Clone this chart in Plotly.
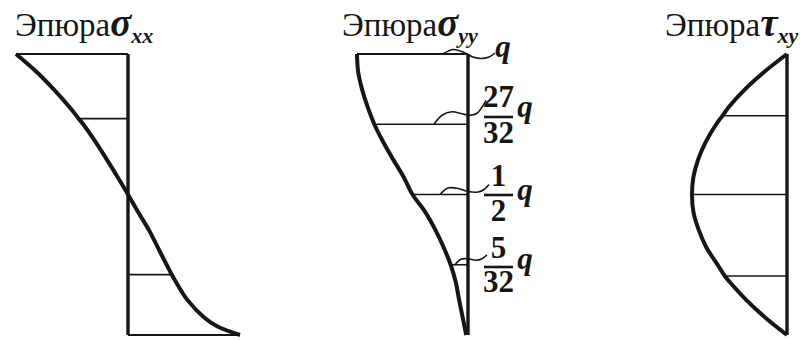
import plotly.graph_objects as go

W, H = 800, 340
INK = "#161616"
SERIF = "Liberation Serif, Times New Roman, serif"

# Depth coordinate across the section: -1 = top fibre, +1 = bottom fibre
eta_xx = [-1, -0.875, -0.75, -0.625, -0.54, -0.5, -0.375, -0.25, -0.125, 0,
          0.125, 0.25, 0.375, 0.5, 0.57, 0.625, 0.75, 0.875, 0.94, 1]
sigma_xx = [-1, -0.82, -0.665, -0.525, -0.44, -0.40, -0.29, -0.19, -0.093, 0,
            0.09, 0.185, 0.265, 0.345, 0.39, 0.43, 0.53, 0.68, 0.80, 1.0]
xx_level_idx = [4, 14]  # ordinate lines drawn inside the sigma_xx diagram

eta_yy = [-1, -0.875, -0.75, -0.625, -0.5, -0.375, -0.25, -0.125, 0,
          0.125, 0.25, 0.375, 0.5, 0.625, 0.75, 0.875, 1]
sigma_yy = [1, 0.99, 0.955, 0.905, 27 / 32, 0.765, 0.675, 0.58, 1 / 2,
            0.385, 0.295, 0.22, 5 / 32, 0.11, 0.08, 0.048, 0.016]
yy_level_idx = [0, 4, 8, 12]
yy_numer = ["", "27", "1", "5"]
yy_denom = ["", "32", "2", "32"]

eta_tau = [-1, -0.875, -0.75, -0.625, -0.56, -0.5, -0.375, -0.25, -0.125, 0,
           0.125, 0.25, 0.375, 0.5, 0.58, 0.625, 0.75, 0.875, 1]
tau_xy = [0, 0.235, 0.44, 0.61, 0.68, 0.745, 0.855, 0.935, 0.985, 1,
          0.985, 0.93, 0.85, 0.73, 0.655, 0.60, 0.43, 0.23, 0]
tau_level_idx = [4, 9, 14]

# Pixel geometry of the three diagrams
TOP, BOT = 54, 335            # rows of eta = -1 and eta = +1
ETA_PER_PX = 2 / (BOT - TOP)
AX1, S1 = 128, 112            # sigma_xx: baseline column, px per unit (to the right)
AX2, S2 = 468, 111            # sigma_yy: baseline column, px per unit (to the left)
AX3, S3 = 787, 95             # tau_xy: baseline column, px per unit (to the left)


def eta_at(row):
    return -1 + (row - TOP) * ETA_PER_PX


def v2_at(col):
    return (AX2 - col) / S2


fig = go.Figure()


def line(xs, ys, axis, width, shape="linear"):
    fig.add_trace(go.Scatter(
        x=xs, y=ys, xaxis=axis, yaxis="y", mode="lines",
        line=dict(color=INK, width=width, shape=shape, smoothing=1.0),
        hoverinfo="skip", showlegend=False))


def text(col, row, label, size, axis="x2"):
    fig.add_trace(go.Scatter(
        x=[v2_at(col)], y=[eta_at(row)], xaxis=axis, yaxis="y", mode="text",
        text=[label], textposition="middle center",
        textfont=dict(family=SERIF, size=size, color=INK),
        hoverinfo="skip", showlegend=False))


# --- sigma_xx diagram ---
line([0, 0], [-1, 1], "x", 3.4)
line([sigma_xx[0], 0], [-1, -1], "x", 2.0)
line([0, sigma_xx[-1]], [1, 1], "x", 2.0)
for i in xx_level_idx:
    line([sigma_xx[i], 0], [eta_xx[i], eta_xx[i]], "x", 1.6)
line(sigma_xx, eta_xx, "x", 4.0, "spline")

# --- sigma_yy diagram ---
line([0, 0], [-1, 1], "x2", 3.4)
for i in yy_level_idx:
    line([sigma_yy[i], 0], [eta_yy[i], eta_yy[i]], "x2", 2.0 if i == 0 else 1.6)
line(sigma_yy, eta_yy, "x2", 4.0, "spline")

# leader squiggles from each ordinate to its label, offsets in px from the baseline
leaders = [
    [(-25, 0), (-15, -4.5), (-5, -2), (5, 3), (13, 4.5), (21, 3), (27, -1)],
    [(-34, 0), (-26, -9), (-16, -12.5), (-6, -10.5), (2, -9), (9, -11), (14, -17), (18, -24)],
    [(-28, 0), (-20, -6.5), (-10, -6), (0, -3), (10, -2.5), (16, -5), (21, -10)],
    [(-13, 0), (-7, -5.5), (0, -6), (8, -4.5), (14, -6), (19, -10)],
]
for i, pts in zip(yy_level_idx, leaders):
    e0 = eta_yy[i]
    line([-dx / S2 for dx, dy in pts], [e0 + dy * ETA_PER_PX for dx, dy in pts],
         "x2", 1.6, "spline")

# value labels: q and the fractions 27/32 q, 1/2 q, 5/32 q
LBL = 31
text(503, 49, "<b><i>q</i></b>", LBL)
frac_rows = [None, (99, 117, 135, 109), (178, 195, 213, 192), (250, 267, 284, 261)]
for k in range(1, 4):
    ny, by, dy, qy = frac_rows[k]
    text(498.5, ny, f"<b>{yy_numer[k]}</b>", LBL)
    text(498.5, dy, f"<b>{yy_denom[k]}</b>", LBL)
    text(525, qy, "<b><i>q</i></b>", LBL)
    line([v2_at(484), v2_at(513)], [eta_at(by), eta_at(by)], "x2", 2.6)

# --- tau_xy diagram ---
line([0, 0], [-1, 1], "x3", 3.4)
for i in tau_level_idx:
    line([tau_xy[i], 0], [eta_tau[i], eta_tau[i]], "x3", 1.6)
line(tau_xy, eta_tau, "x3", 4.0, "spline")

# --- titles ---
titles = [(13, "σ", "xx"), (340, "σ", "yy"), (663, "τ", "xy")]
annotations = []
for x0, sym, sub in titles:
    annotations.append(dict(
        x=x0 / W, y=1 - 25 / H, xref="paper", yref="paper", xanchor="left", yanchor="middle",
        showarrow=False,
        text=(f"Эпюра<b><i><span style='font-size:39px'>{sym}</span>"
              f"<sub><span style='font-size:22px'>{sub}</span></sub></i></b>"),
        font=dict(family=SERIF, size=33, color=INK)))

ax_common = dict(visible=False, showgrid=False, zeroline=False, domain=[0, 1], fixedrange=True)
fig.update_layout(
    width=W, height=H, margin=dict(l=0, r=0, t=0, b=0),
    paper_bgcolor="white", plot_bgcolor="white",
    xaxis=dict(range=[-AX1 / S1, (W - AX1) / S1], **ax_common),
    xaxis2=dict(range=[AX2 / S2, (AX2 - W) / S2], overlaying="x", anchor="y", **ax_common),
    xaxis3=dict(range=[AX3 / S3, (AX3 - W) / S3], overlaying="x", anchor="y", **ax_common),
    yaxis=dict(range=[1 + (H - BOT) * ETA_PER_PX, -1 - TOP * ETA_PER_PX], **ax_common),
    annotations=annotations,
)

fig.write_html("out.html", config={"displayModeBar": False})
